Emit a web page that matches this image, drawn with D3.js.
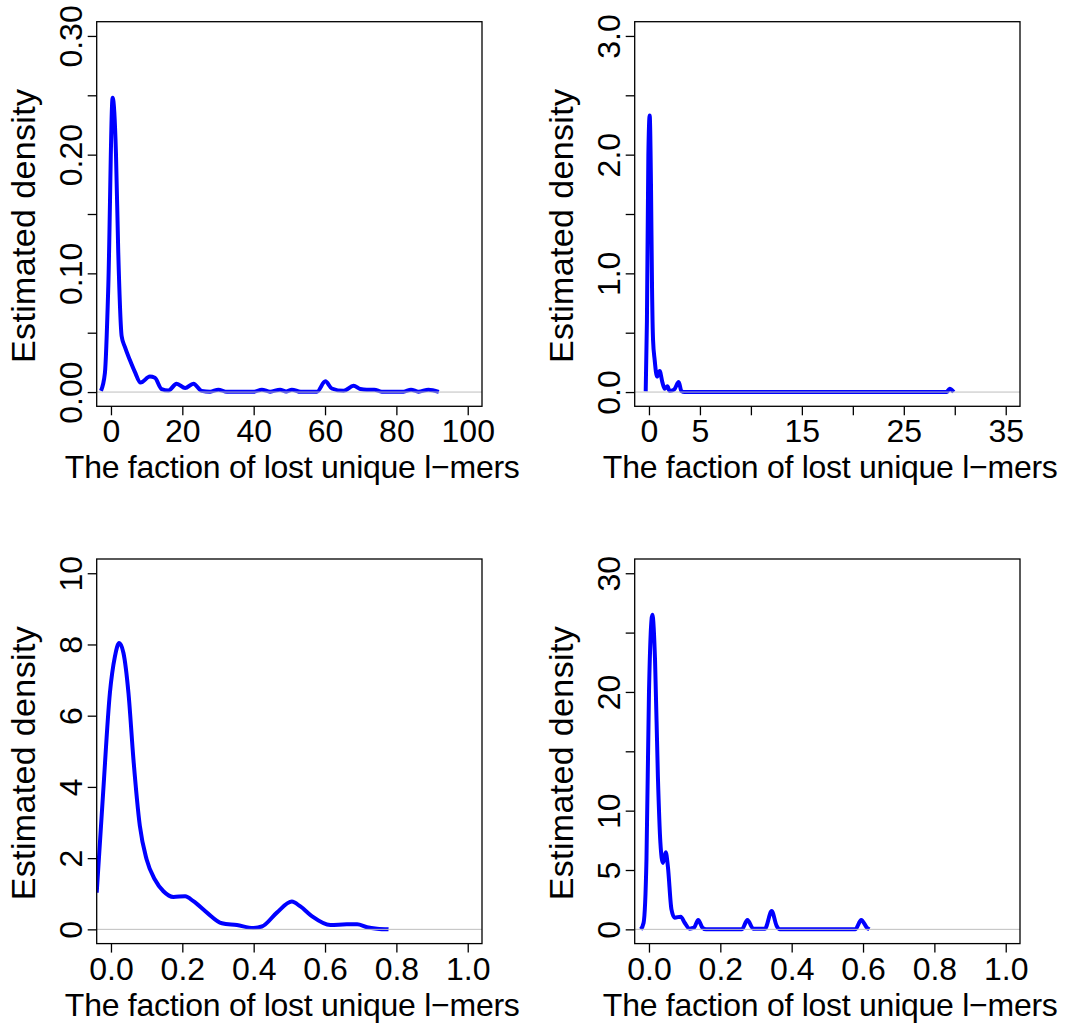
<!DOCTYPE html>
<html>
<head>
<meta charset="utf-8">
<script src="https://cdn.jsdelivr.net/npm/d3@7"></script>
<style>
  body { margin: 0; background: #fff; }
  svg { display: block; font-family: "Liberation Sans", Arial, Helvetica, sans-serif; }
  .tick line { stroke: #000; stroke-width: 1.3; }
  .domain { stroke: none; }
</style>
</head>
<body>
<svg id="chart" width="1067" height="1025"></svg>
<script>
// panel 1 (top left)
const p1X = [-2.8, -1.7, -0.75, 0.47, 1.4, 2.05, 3.0, 3.9, 5.3, 6.7, 8.3, 10.9, 12.3, 14.2, 16.1, 18.4, 20.8, 23.1, 25.4, 27.8, 30.1, 32.5, 39.9, 42.3, 44.6, 47.4, 49.1, 50.7, 53.2, 57.7, 60.1, 61.9, 65.2, 68.0, 69.9, 71.7, 73.8, 75.9, 82.0, 84.1, 86.2, 89.0, 91.9]
const p1Y = [0.001, 0.016, 0.089, 0.248, 0.201, 0.117, 0.047, 0.038, 0.027, 0.017, 0.008, 0.013, 0.012, 0.0025, 0.0013, 0.007, 0.0034, 0.007, 0.001, 0.0003, 0.002, 0.0002, 0.0002, 0.002, 0.0003, 0.002, 0.0005, 0.002, 0.0002, 0.0002, 0.009, 0.003, 0.001, 0.0053, 0.0025, 0.002, 0.002, 0.0003, 0.0003, 0.002, 0.0003, 0.002, 0.0002]
const p1Xlim = [0, 100]
const p1Ylim = [0, 0.3]
const p1XTicks = [0, 20, 40, 60, 80, 100]
const p1XLabels = ["0", "20", "40", "60", "80", "100"]
const p1YTicks = [0, 0.05, 0.1, 0.15, 0.2, 0.25, 0.3]
const p1YLabels = ["0.00", "", "0.10", "", "0.20", "", "0.30"]

// panel 2 (top right)
const p2X = [-0.32, -0.2, -0.06, 0.07, 0.2, 0.3, 0.4, 0.56, 0.79, 1.05, 1.31, 1.54, 1.81, 2.03, 2.46, 2.92, 3.18, 3.5, 29.2, 29.5, 29.9]
const p2Y = [0.006, 0.6, 2.0, 2.33, 1.73, 0.88, 0.44, 0.27, 0.13, 0.177, 0.084, 0.028, 0.048, 0.008, 0.02, 0.084, 0.008, 0, 0, 0.028, 0]
const p2Xlim = [0, 35]
const p2Ylim = [0, 3]
const p2XTicks = [0, 5, 10, 15, 20, 25, 30, 35]
const p2XLabels = ["0", "5", "", "15", "", "25", "", "35"]
const p2YTicks = [0, 0.5, 1, 1.5, 2, 2.5, 3]
const p2YLabels = ["0.0", "", "1.0", "", "2.0", "", "3.0"]

// panel 3 (bottom left)
const p3X = [-0.04, -0.022, -0.003, 0.011, 0.023, 0.035, 0.049, 0.063, 0.081, 0.1, 0.123, 0.147, 0.175, 0.208, 0.231, 0.269, 0.311, 0.353, 0.399, 0.423, 0.465, 0.507, 0.53, 0.563, 0.615, 0.661, 0.69, 0.718, 0.746, 0.778]
const p3Y = [1.03, 3.83, 6.64, 7.66, 8.04, 7.76, 6.64, 4.77, 2.9, 1.96, 1.4, 1.07, 0.91, 0.93, 0.79, 0.47, 0.17, 0.12, 0.04, 0.08, 0.47, 0.78, 0.65, 0.37, 0.12, 0.14, 0.14, 0.06, 0.02, 0]
const p3Xlim = [0, 1]
const p3Ylim = [0, 10]
const p3XTicks = [0, 0.2, 0.4, 0.6, 0.8, 1]
const p3XLabels = ["0.0", "0.2", "0.4", "0.6", "0.8", "1.0"]
const p3YTicks = [0, 2, 4, 6, 8, 10]
const p3YLabels = ["0", "2", "4", "6", "8", "10"]

// panel 4 (bottom right)
const p4X = [-0.023, -0.015, -0.007, 0.0, 0.0095, 0.017, 0.025, 0.032, 0.039, 0.047, 0.053, 0.063, 0.072, 0.089, 0.1, 0.114, 0.126, 0.138, 0.15, 0.16, 0.26, 0.276, 0.292, 0.325, 0.344, 0.358, 0.367, 0.578, 0.595, 0.611, 0.618]
const p4Y = [0, 0.56, 5.9, 19.9, 26.5, 22.7, 12.9, 7.3, 5.6, 6.5, 5.3, 1.68, 0.98, 1.07, 0.56, 0.06, 0.14, 0.79, 0.14, 0, 0, 0.79, 0.06, 0.05, 1.54, 0.28, 0, 0, 0.79, 0.14, 0]
const p4Xlim = [0, 1]
const p4Ylim = [0, 30]
const p4XTicks = [0, 0.2, 0.4, 0.6, 0.8, 1]
const p4XLabels = ["0.0", "0.2", "0.4", "0.6", "0.8", "1.0"]
const p4YTicks = [0, 5, 10, 15, 20, 25, 30]
const p4YLabels = ["0", "5", "10", "", "20", "", "30"]

const xTitle = "The faction of lost unique l\u2212mers"
const yTitle = "Estimated density"

const svg = d3.select("#chart")
svg.append("rect").attr("width", 1067).attr("height", 1025).attr("fill", "#fff")

const w = 385.3, h = 384.6
const fontSize = 32

function extend(lim) {
    let d = (lim[1] - lim[0]) * 0.04
    return [lim[0] - d, lim[1] + d]
}

function drawPanel(id, left, top, xs, ys, xlim, ylim, xTicks, xLabels, yTicks, yLabels) {
    let x = d3.scaleLinear().domain(extend(xlim)).range([0, w])
    let y = d3.scaleLinear().domain(extend(ylim)).range([h, 0])

    let g = svg.append("g").attr("transform", "translate(" + left + "," + top + ")")

    g.append("clipPath").attr("id", "clip" + id)
        .append("rect").attr("width", w).attr("height", h)

    let data = xs.map((v, i) => ({x: v, y: ys[i]}))
    let line = d3.line()
        .x(d => x(d.x))
        .y(d => y(d.y))
        .curve(d3.curveMonotoneX)

    g.append("path")
        .datum(data)
        .attr("clip-path", "url(#clip" + id + ")")
        .attr("fill", "none")
        .attr("stroke", "#0000ff")
        .attr("stroke-width", 4)
        .attr("stroke-linejoin", "round")
        .attr("d", line)

    // zero line, drawn over the curve like R does
    g.append("line")
        .attr("x1", 0).attr("x2", w)
        .attr("y1", y(0)).attr("y2", y(0))
        .attr("stroke", "#bebebe")
        .attr("stroke-width", 1)

    g.append("rect")
        .attr("width", w).attr("height", h)
        .attr("fill", "none")
        .attr("stroke", "#000")
        .attr("stroke-width", 1.3)

    let xAxis = g.append("g")
        .attr("transform", "translate(0," + h + ")")
        .call(d3.axisBottom(x).tickValues(xTicks).tickSize(9).tickSizeOuter(0)
            .tickFormat((d, i) => xLabels[i]))
    xAxis.selectAll("text")
        .attr("y", 36).attr("dy", 0)
        .attr("fill", "#000")
        .style("font-size", fontSize + "px")

    let yAxis = g.append("g")
        .call(d3.axisLeft(y).tickValues(yTicks).tickSize(9).tickSizeOuter(0)
            .tickFormat((d, i) => yLabels[i]))
    yAxis.selectAll("text")
        .attr("transform", "rotate(-90)")
        .attr("x", 0).attr("y", -15).attr("dy", 0)
        .attr("text-anchor", "middle")
        .attr("fill", "#000")
        .style("font-size", fontSize + "px")

    g.append("text")
        .attr("x", w / 2 + 3).attr("y", h + 72)
        .attr("text-anchor", "middle")
        .attr("textLength", 455)
        .attr("lengthAdjust", "spacing")
        .style("font-size", fontSize + "px")
        .text(xTitle)

    g.append("text")
        .attr("transform", "translate(-62," + (h / 2 + 12) + ") rotate(-90)")
        .attr("text-anchor", "middle")
        .attr("textLength", 274)
        .attr("lengthAdjust", "spacing")
        .style("font-size", (fontSize + 2) + "px")
        .text(yTitle)
}

drawPanel(1, 96.7, 21.7, p1X, p1Y, p1Xlim, p1Ylim, p1XTicks, p1XLabels, p1YTicks, p1YLabels)
drawPanel(2, 634.7, 21.7, p2X, p2Y, p2Xlim, p2Ylim, p2XTicks, p2XLabels, p2YTicks, p2YLabels)
drawPanel(3, 96.7, 559, p3X, p3Y, p3Xlim, p3Ylim, p3XTicks, p3XLabels, p3YTicks, p3YLabels)
drawPanel(4, 634.7, 559, p4X, p4Y, p4Xlim, p4Ylim, p4XTicks, p4XLabels, p4YTicks, p4YLabels)
</script>
</body>
</html>
